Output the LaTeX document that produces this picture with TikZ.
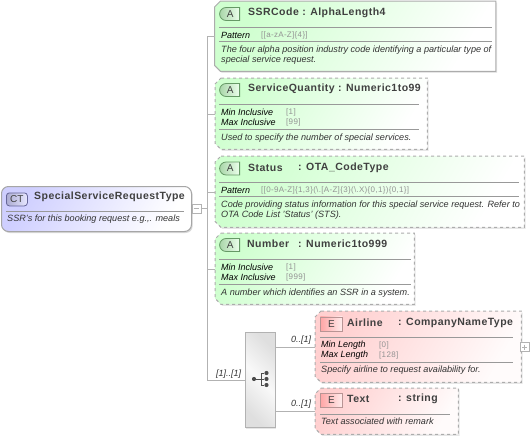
\documentclass[tikz,border=0pt]{standalone}
\usepackage{fontspec}
\setmainfont{Liberation Sans}
\newfontfamily\titlefont[LetterSpace=4.5]{Liberation Sans}
\newfontfamily\valuefont[LetterSpace=4]{Liberation Sans}
\usetikzlibrary{positioning, shapes.misc, shadows, calc}

\definecolor{attrgreen}{HTML}{CFFFCF}
\definecolor{elemred}{HTML}{FFD0D0}
\definecolor{typeblue}{HTML}{CFCFFF}

\begin{document}
\begin{tikzpicture}[
    x=1pt, y=-1pt,
    comp/.style={rectangle, anchor=north west, inner sep=0pt},
    chambox/.style={to path={([xshift=6pt]\tikztostart) -- (\tikztostart -| \tikztotarget) -- (\tikztotarget)
                    -- ([xshift=6pt]\tikztostart |- \tikztotarget) -- ([yshift=6pt]\tikztostart |- \tikztotarget)
                    -- ([yshift=-6pt]\tikztostart) -- cycle}},
    outline/.style={draw=gray!65, line width=1pt,
                 drop shadow={shadow xshift=1.2pt, shadow yshift=-1.5pt, opacity=0.2}},
    attr/.style={outline, left color=attrgreen, right color=white, shading angle=60},
    attropt/.style={attr, dashed},
    elemopt/.style={outline, dashed, left color=elemred, right color=white!92!elemred, shading angle=60},
    ctbox/.style={anchor=north west, inner sep=0pt, rounded corners=7pt, draw=gray!70, line width=1pt,
                  left color=typeblue, right color=white, shading angle=60,
                  minimum width=190pt, minimum height=45pt,
                  drop shadow={shadow xshift=1.2pt, shadow yshift=-1.5pt, opacity=0.3}},
    seqbox/.style={anchor=north west, inner sep=0pt, draw=gray!60, minimum width=30pt, minimum height=95pt,
                   left color=gray!25, right color=gray!25, middle color=gray!5, shading angle=-45,
                   drop shadow={shadow xshift=1.2pt, shadow yshift=-1.5pt, opacity=0.2}},
    expander/.style={anchor=west, inner sep=0pt, draw=gray!60, fill=white, minimum size=9pt},
    badge/.style={inner sep=0pt, minimum height=13pt,
                  font=\fontsize{10}{10}\selectfont, text=black!75},
    badgeA/.style={badge, anchor=east, minimum width=20pt, rounded rectangle, rounded rectangle right arc=none,
                   draw=green!20!gray, line width=0.8pt,
                   left color=green!35!gray!50, right color=attrgreen!40},
    badgeE/.style={badge, anchor=north west, minimum width=22pt, minimum height=14pt, draw=red!20!gray!70,
                   line width=0.8pt, left color=red!35, right color=elemred!40},
    badgeCT/.style={badge, anchor=north west, rounded corners=3pt, minimum width=21pt, draw=blue!20!gray,
                    line width=0.8pt, left color=blue!30!gray!50, right color=typeblue!50},
    titletxt/.style={anchor=west, inner sep=0pt, font=\titlefont\fontsize{10.5}{10}\selectfont\bfseries, text=black!75},
    facet/.style={anchor=west, inner sep=0pt, font=\fontsize{9}{10}\selectfont\itshape},
    value/.style={anchor=west, inner sep=0pt, font=\valuefont\fontsize{8}{10}\selectfont, text=gray!85},
    desc/.style={anchor=north west, inner sep=0pt, align=left, font=\fontsize{9.1}{10}\selectfont\itshape, text=black!80},
    occur/.style={anchor=west, inner sep=0pt, font=\fontsize{9}{10}\selectfont\itshape, text=black!80},
    sep/.style={draw=gray!80, thin},
    conn/.style={draw=gray!60, thin},
    dot/.style={circle, fill=black!70, inner sep=0pt, minimum size=4.2pt},
]
\useasboundingbox (0,0) rectangle (531,439);

% type on the left
\node[ctbox] (ct) at (1,186) {};
\node[badgeCT] (ctbadge) at (6,192.5) {CT};
\node[titletxt] (cttitle) at (34,197) {SpecialServiceRequestType};
\draw[sep] (6,211.5) -- (184,211.5);
\node[desc] (ctdesc) at (7,215) {SSR's for this booking request e.g.,. meals};
\node[expander] (minus) at (191.5,208.5) {};
\draw[gray!60] (193.5,208.5) -- (198.5,208.5);

% attributes
\node[comp, minimum width=281pt, minimum height=70pt] (ssr) at (214.5,1) {};
\draw[attr] (ssr.north west) to[chambox] (ssr.south east);
\node[badgeA] (ssrbadge) at (240,14) {A};
\node[titletxt] (ssrtitle) at (248,12.5) {SSRCode : AlphaLength4};
\draw[sep] (219,27.5) -- (492,27.5);
\node[facet] (ssrpat) at (221,35) {Pattern};
\node[value] (ssrval) at (261,35) {[[a-zA-Z]\{4\}]};
\draw[sep] (219,41.5) -- (492,41.5);
\node[desc] (ssrdesc) at (221,45.5) {The four alpha position industry code identifying a particular type of\\special service request.};

\node[comp, minimum width=212pt, minimum height=71pt] (qty) at (215,78) {};
\draw[attropt] (qty.north west) to[chambox] (qty.south east);
\node[badgeA] (qtybadge) at (240,90) {A};
\node[titletxt] (qtytitle) at (248,89) {ServiceQuantity : Numeric1to99};
\draw[sep] (219,104.5) -- (419,104.5);
\node[facet] (qtymin) at (221,112) {Min Inclusive};
\node[value] (qtyminval) at (286,112) {[1]};
\node[facet] (qtymax) at (221,122) {Max Inclusive};
\node[value] (qtymaxval) at (286,122) {[99]};
\draw[sep] (219,129.5) -- (419,129.5);
\node[desc] (qtydesc) at (221,133.5) {Used to specify the number of special services.};

\node[comp, minimum width=309pt, minimum height=71pt] (status) at (215,156) {};
\draw[attropt] (status.north west) to[chambox] (status.south east);
\node[badgeA] (statusbadge) at (240,168.5) {A};
\node[titletxt] (statustitle) at (248,167.5) {Status};
\node[titletxt] (statustype) at (298,167.5) {: OTA\_CodeType};
\draw[sep] (219,182.5) -- (519,182.5);
\node[facet] (statuspat) at (221,190) {Pattern};
\node[value] (statusval) at (261,190) {[[0-9A-Z]\{1,3\}(\textbackslash.[A-Z]\{3\}(\textbackslash.X)\{0,1\})\{0,1\}]};
\draw[sep] (219,196.5) -- (519,196.5);
\node[desc] (statusdesc) at (221,200.5) {Code providing status information for this special service request. Refer to\\OTA Code List 'Status' (STS).};

\node[comp, minimum width=199pt, minimum height=71pt] (number) at (215,233) {};
\draw[attropt] (number.north west) to[chambox] (number.south east);
\node[badgeA] (numberbadge) at (240,245) {A};
\node[titletxt] (numbertitle) at (247,244) {Number};
\node[titletxt] (numbertype) at (298,244) {: Numeric1to999};
\draw[sep] (219,259) -- (411,259);
\node[facet] (numbermin) at (221,267) {Min Inclusive};
\node[value] (numberminval) at (286,267) {[1]};
\node[facet] (numbermax) at (221,277) {Max Inclusive};
\node[value] (numbermaxval) at (286,277) {[999]};
\draw[sep] (219,284) -- (411,284);
\node[desc] (numberdesc) at (221,288.5) {A number which identifies an SSR in a system.};

% sequence compositor
\node[seqbox] (seq) at (245,332) {};
\node[dot] (seqin) at (254,379) {};
\node[dot] (seqa) at (266.5,373) {};
\node[dot] (seqb) at (266.5,379) {};
\node[dot] (seqc) at (266.5,385) {};
\draw[black!70, thick] (seqin) -- (seqb);
\draw[black!70, thick] (seqa) -| (261,385) -- (seqc);

% elements
\node[comp, minimum width=206pt, minimum height=71pt] (airline) at (315,311) {};
\draw[elemopt] (airline.north west) to[chambox] (airline.south east);
\node[badgeE] (airlinebadge) at (320,316.5) {E};
\node[titletxt] (airlinetitle) at (347,322.5) {Airline};
\node[titletxt] (airlinetype) at (398,322.5) {: CompanyNameType};
\draw[sep] (320,337.5) -- (513,337.5);
\node[facet] (airlinemin) at (321,345) {Min Length};
\node[value] (airlineminval) at (379,345) {[0]};
\node[facet] (airlinemax) at (321,355) {Max Length};
\node[value] (airlinemaxval) at (379,355) {[128]};
\draw[sep] (320,362) -- (513,362);
\node[desc] (airlinedesc) at (321,366) {Specify airline to request availability for.};
\node[expander] (plus) at (520,347) {};
\draw[gray!60] (522,347) -- (527,347) (524.5,344.5) -- (524.5,349.5);

\node[comp, minimum width=143pt, minimum height=46pt] (text) at (315,388) {};
\draw[elemopt] (text.north west) to[chambox] (text.south east);
\node[badgeE] (textbadge) at (320,393) {E};
\node[titletxt] (texttitle) at (347,399) {Text};
\node[titletxt] (texttype) at (398,399) {: string};
\draw[sep] (320,414.5) -- (450,414.5);
\node[desc] (textdesc) at (321,418) {Text associated with remark};

% connectors
\coordinate (spine) at (207.5,36);
\draw[conn] (minus.east) -- (minus.east -| spine);
\draw[conn] (ssr.west -| spine) |- (seq.west);
\draw[conn] (ssr.west -| spine) -- (ssr.west);
\draw[conn] (qty.west -| spine) -- (qty.west);
\draw[conn] (status.west -| spine) -- (status.west);
\draw[conn] (number.west -| spine) -- (number.west);
\draw[conn] (seq.east |- airline.west) -- (airline.west);
\draw[conn] (seq.east |- text.west) -- (text.west);

\node[occur] (seqocc) at (216,374) {[1]..[1]};
\node[occur] (airlineocc) at (291,340) {0..[1]};
\node[occur] (textocc) at (291,404) {0..[1]};
\end{tikzpicture}
\end{document}
